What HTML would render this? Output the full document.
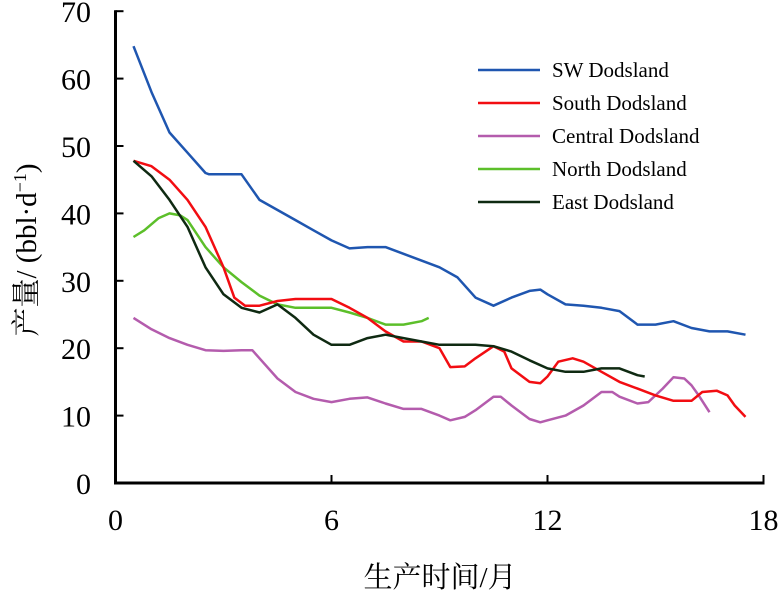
<!DOCTYPE html>
<html><head><meta charset="utf-8"><style>
body{margin:0;background:#fff}
svg text{font-family:"Liberation Serif","Noto Serif CJK SC",serif;fill:#000}
</style></head><body>
<svg id="c" width="778" height="590"></svg>
<script>
const xTicks=[0,6,12,18];
const yTicks=[0,10,20,30,40,50,60,70];
const seriesNames=["SW Dodsland","South Dodsland","Central Dodsland","North Dodsland","East Dodsland"];
const seriesColors=["#1f56b0","#f20d12","#b45cad","#5cbf2a","#0f2a12"];
const swX=[0.5,1,1.5,2,2.5,2.6,3.5,4,4.5,5,5.5,6,6.5,7,7.5,8,8.5,9,9.5,10,10.5,11,11.5,11.8,12,12.5,13,13.5,14,14.5,15,15.5,16,16.5,17,17.5];
const swY=[64.8,58,52,49,46,45.8,45.8,42,40.5,39,37.5,36,34.8,35,35,34,33,32,30.5,27.5,26.3,27.5,28.5,28.7,28,26.5,26.3,26,25.5,23.5,23.5,24,23,22.5,22.5,22];
const southX=[0.5,1,1.5,2,2.5,3,3.3,3.6,4,4.5,5,6,6.5,7,7.5,8,8.5,9,9.3,9.7,10,10.5,10.8,11,11.5,11.8,12,12.3,12.7,13,13.5,14,14.5,15,15.5,16,16.3,16.7,17,17.2,17.5];
const southY=[47.8,47,45,42,38,32,27.5,26.3,26.3,27,27.3,27.3,26,24.5,22.5,21,21,20,17.2,17.3,18.5,20.3,19.5,17,15,14.8,15.8,18,18.5,18,16.5,15,14,13,12.2,12.2,13.5,13.7,13,11.5,9.8];
const centralX=[0.5,1,1.5,2,2.5,3,3.5,3.8,4,4.5,5,5.5,6,6.5,7,7.5,8,8.5,9,9.3,9.7,10,10.5,10.7,11,11.5,11.8,12,12.5,13,13.5,13.8,14,14.5,14.8,15.2,15.5,15.8,16,16.2,16.5];
const centralY=[24.5,22.8,21.5,20.5,19.7,19.6,19.7,19.7,18.5,15.5,13.5,12.5,12,12.5,12.7,11.8,11,11,10,9.3,9.8,10.8,12.8,12.8,11.5,9.5,9,9.3,10,11.5,13.5,13.5,12.8,11.8,12,14,15.7,15.5,14.5,13,10.5];
const northX=[0.5,0.8,1.2,1.5,1.8,2,2.5,3,3.5,4,4.5,5,6,6.5,7,7.5,8,8.5,8.7];
const northY=[36.5,37.5,39.3,40,39.7,39,35,32,29.8,27.8,26.5,26,26,25.3,24.5,23.5,23.5,24,24.5];
const eastX=[0.5,1,1.5,2,2.5,3,3.5,4,4.5,5,5.5,6,6.5,7,7.5,8,8.5,9,9.5,10,10.5,11,11.5,12,12.5,13,13.5,14,14.5,14.7];
const eastY=[47.8,45.5,42,38,32,28,26,25.3,26.5,24.5,22,20.5,20.5,21.5,22,21.5,21,20.5,20.5,20.5,20.3,19.5,18.2,17,16.5,16.5,17,17,16,15.8];

const NS="http://www.w3.org/2000/svg";
const svg=document.getElementById('c');
const X0=115.5,XS=36,Y0=483,YS=6.74;
const sx=v=>X0+v*XS, sy=v=>Y0-v*YS;
function mk(t,a,txt){const e=document.createElementNS(NS,t);for(const k in a)e.setAttribute(k,a[k]);if(txt!=null)e.textContent=txt;svg.appendChild(e);return e;}

let e=mk('line',{x1:X0,y1:sy(70)-1,x2:X0,y2:Y0+1.5,stroke:'#000','stroke-width':3});


e=mk('line',{x1:X0-1.5,y1:Y0,x2:sx(18)+1,y2:Y0,stroke:'#000','stroke-width':3});


yTicks.forEach(v=>{
  if(v>0){e=mk('line',{x1:X0,y1:sy(v),x2:X0+8,y2:sy(v),stroke:'#000','stroke-width':2});
  
  }
  e=mk('text',{x:91,y:sy(v)+11,'text-anchor':'end','font-size':30},String(v));
  
  
});
xTicks.forEach(v=>{
  if(v>0){e=mk('line',{x1:sx(v),y1:Y0,x2:sx(v),y2:Y0-8,stroke:'#000','stroke-width':2});
  
  }
  e=mk('text',{x:sx(v),y:530,'text-anchor':'middle','font-size':30},String(v));
  
  
});
const xs=[swX,southX,centralX,northX,eastX], ys=[swY,southY,centralY,northY,eastY];
const drawOrder=[2,3,1,4,0];
drawOrder.forEach(i=>{
  const d=xs[i].map((x,j)=>(j?'L':'M')+sx(x).toFixed(1)+' '+sy(ys[i][j]).toFixed(1)).join(' ');
  const p=mk('path',{d:d,fill:'none',stroke:seriesColors[i],'stroke-width':2.5,'stroke-linejoin':'round'});
  
  
});
seriesNames.forEach((n,i)=>{
  const y=70+i*33;
  let l=mk('line',{x1:478,y1:y,x2:540,y2:y,stroke:seriesColors[i],'stroke-width':2.5});
  
  
  let t=mk('text',{x:552,y:y+7,'font-size':21},n);
  
  
});
e=mk('text',{x:440,y:587,'text-anchor':'middle','font-size':29},'生产时间/月');


e=mk('text',{x:0,y:0,'text-anchor':'middle','font-size':29,transform:'translate(36,250) rotate(-90)'});
e.innerHTML='产量/ (bbl·d<tspan dy="-10" font-size="18">−1</tspan><tspan dy="10">)</tspan>';


</script>
</body></html>
